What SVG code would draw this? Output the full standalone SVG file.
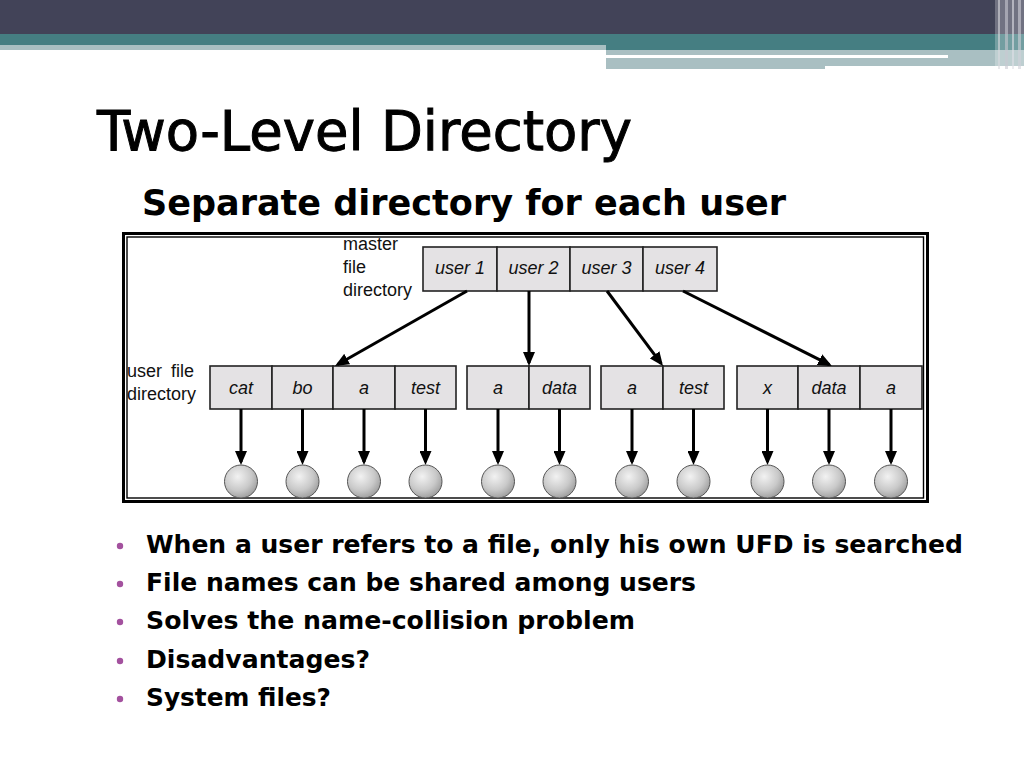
<svg xmlns="http://www.w3.org/2000/svg" width="1024" height="768" viewBox="0 0 1024 768">
<defs>
<style>
.ttl{font-family:"DejaVu Sans","Liberation Sans",sans-serif;fill:#000}
.bul{font-family:"DejaVu Sans","Liberation Sans",sans-serif;font-weight:bold;font-size:25px;fill:#000}
.lbl{font-family:"Liberation Sans",Arial,sans-serif;font-size:18px;fill:#111}
.cell text{font-family:"Liberation Sans",Arial,sans-serif;font-size:18px;font-style:italic;fill:#111;text-anchor:middle}
.cell rect{fill:#E4E2E4;stroke:#222;stroke-width:1.6}
.conn line{stroke:#000;stroke-width:3;marker-end:url(#ah)}
.file{fill:url(#ball);stroke:#555;stroke-width:1}
.dot{fill:#A3519E}
</style>
<marker id="ah" viewBox="0 0 14 12" refX="11" refY="6" markerWidth="14" markerHeight="12" markerUnits="userSpaceOnUse" orient="auto">
<path d="M0,0 L14,6 L0,12 z" fill="#000"/>
</marker>
<radialGradient id="ball" cx="0.4" cy="0.35" r="0.7">
<stop offset="0" stop-color="#F2F2F2"/>
<stop offset="0.6" stop-color="#C9C9C9"/>
<stop offset="1" stop-color="#9A9A9A"/>
</radialGradient>
</defs>
<rect width="1024" height="768" fill="#FFFFFF"/>
<!-- header bands -->
<g id="header">
<rect x="0" y="0" width="1024" height="34" fill="#424358"/>
<rect x="0" y="34" width="1024" height="11" fill="#457E82"/>
<rect x="0" y="45" width="606" height="5" fill="#A9BFC2"/>
<rect x="606" y="45" width="418" height="5" fill="#457E82"/>
<rect x="606" y="50" width="418" height="16" fill="#A9BFC2"/>
<rect x="606" y="55" width="342" height="3" fill="#FFFFFF"/>
<rect x="606" y="66" width="219" height="3" fill="#A9BFC2"/>
<rect x="995" y="0" width="29" height="69" fill="#FFFFFF" opacity="0.25"/>
<rect x="998" y="0" width="2" height="69" fill="#D8D8DE" opacity="0.6"/>
<rect x="1005" y="0" width="3" height="69" fill="#C8C8D0" opacity="0.6"/>
<rect x="1012" y="0" width="2" height="69" fill="#E0E0E6" opacity="0.6"/>
<rect x="1018" y="0" width="3" height="69" fill="#D0D0D8" opacity="0.6"/>
</g>
<!-- titles -->
<text class="ttl" x="97" y="150" font-size="55" stroke="#000" stroke-width="1" textLength="535" lengthAdjust="spacingAndGlyphs">Two-Level Directory</text>
<text class="ttl" x="142" y="215" font-size="35" font-weight="bold" textLength="644" lengthAdjust="spacingAndGlyphs">Separate directory for each user</text>
<!-- diagram frame -->
<g id="frame">
<rect x="123.5" y="233.5" width="804" height="268" fill="#FFFFFF" stroke="#000" stroke-width="3"/>
<rect x="127" y="237" width="796.5" height="261" fill="none" stroke="#000" stroke-width="1.4"/>
</g>
<!-- labels -->
<g id="labels">
<text class="lbl" x="343" y="250">master</text>
<text class="lbl" x="343" y="273">file</text>
<text class="lbl" x="343" y="296">directory</text>
<text class="lbl" x="127" y="377" word-spacing="4">user file</text>
<text class="lbl" x="127" y="400">directory</text>
</g>
<!-- master file directory -->
<g id="mfd" class="cell">
<rect x="423" y="247" width="74" height="44"/>
<rect x="497" y="247" width="73" height="44"/>
<rect x="570" y="247" width="73" height="44"/>
<rect x="643" y="247" width="74" height="44"/>
<text x="460" y="274">user 1</text>
<text x="533.5" y="274">user 2</text>
<text x="606.5" y="274">user 3</text>
<text x="680" y="274">user 4</text>
</g>
<!-- user file directories -->
<g id="ufd1" class="cell">
<rect x="210" y="366" width="62" height="43"/>
<rect x="272" y="366" width="61" height="43"/>
<rect x="333" y="366" width="62" height="43"/>
<rect x="395" y="366" width="61" height="43"/>
<text x="241" y="394">cat</text>
<text x="302.5" y="394">bo</text>
<text x="364" y="394">a</text>
<text x="425.5" y="394">test</text>
</g>
<g id="ufd2" class="cell">
<rect x="467" y="366" width="62" height="43"/>
<rect x="529" y="366" width="61" height="43"/>
<text x="498" y="394">a</text>
<text x="559.5" y="394">data</text>
</g>
<g id="ufd3" class="cell">
<rect x="601" y="366" width="62" height="43"/>
<rect x="663" y="366" width="61" height="43"/>
<text x="632" y="394">a</text>
<text x="693.5" y="394">test</text>
</g>
<g id="ufd4" class="cell">
<rect x="737" y="366" width="61" height="43"/>
<rect x="798" y="366" width="62" height="43"/>
<rect x="860" y="366" width="62" height="43"/>
<text x="767.5" y="394">x</text>
<text x="829" y="394">data</text>
<text x="891" y="394">a</text>
</g>
<!-- connectors -->
<g id="connectors" class="conn">
<line x1="467" y1="291" x2="337.6" y2="364.5"/>
<line x1="529" y1="291" x2="529" y2="363"/>
<line x1="607" y1="291" x2="661.2" y2="363.6"/>
<line x1="683" y1="291" x2="829.3" y2="364.6"/>
<line x1="241" y1="409" x2="241" y2="462"/>
<line x1="302.5" y1="409" x2="302.5" y2="462"/>
<line x1="364" y1="409" x2="364" y2="462"/>
<line x1="425.5" y1="409" x2="425.5" y2="462"/>
<line x1="498" y1="409" x2="498" y2="462"/>
<line x1="559.5" y1="409" x2="559.5" y2="462"/>
<line x1="632" y1="409" x2="632" y2="462"/>
<line x1="693.5" y1="409" x2="693.5" y2="462"/>
<line x1="767.5" y1="409" x2="767.5" y2="462"/>
<line x1="829" y1="409" x2="829" y2="462"/>
<line x1="891" y1="409" x2="891" y2="462"/>
</g>
<!-- files -->
<g id="files">
<circle class="file" cx="241" cy="481.5" r="16.5"/>
<circle class="file" cx="302.5" cy="481.5" r="16.5"/>
<circle class="file" cx="364" cy="481.5" r="16.5"/>
<circle class="file" cx="425.5" cy="481.5" r="16.5"/>
<circle class="file" cx="498" cy="481.5" r="16.5"/>
<circle class="file" cx="559.5" cy="481.5" r="16.5"/>
<circle class="file" cx="632" cy="481.5" r="16.5"/>
<circle class="file" cx="693.5" cy="481.5" r="16.5"/>
<circle class="file" cx="767.5" cy="481.5" r="16.5"/>
<circle class="file" cx="829" cy="481.5" r="16.5"/>
<circle class="file" cx="891" cy="481.5" r="16.5"/>
</g>
<!-- bullets -->
<g id="bullets">
<circle class="dot" cx="120" cy="546" r="3.2"/>
<circle class="dot" cx="120" cy="584" r="3.2"/>
<circle class="dot" cx="120" cy="622" r="3.2"/>
<circle class="dot" cx="120" cy="661" r="3.2"/>
<circle class="dot" cx="120" cy="699" r="3.2"/>
<text class="bul" x="146" y="553" textLength="817" lengthAdjust="spacingAndGlyphs">When a user refers to a file, only his own UFD is searched</text>
<text class="bul" x="146" y="591" textLength="550" lengthAdjust="spacingAndGlyphs">File names can be shared among users</text>
<text class="bul" x="146" y="629" textLength="489" lengthAdjust="spacingAndGlyphs">Solves the name-collision problem</text>
<text class="bul" x="146" y="668" textLength="224" lengthAdjust="spacingAndGlyphs">Disadvantages?</text>
<text class="bul" x="146" y="706" textLength="185" lengthAdjust="spacingAndGlyphs">System files?</text>
</g>
</svg>
